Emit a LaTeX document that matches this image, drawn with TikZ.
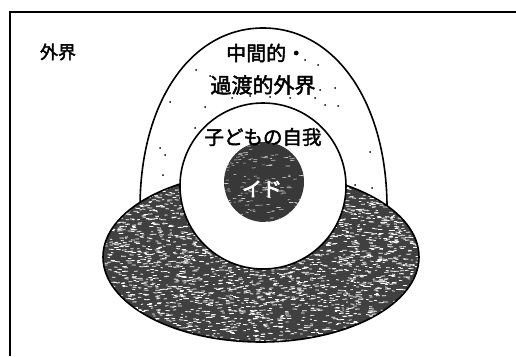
\documentclass[tikz,border=0pt]{standalone}
\usepackage{fontspec}
\newfontfamily\jp[FakeBold=2.2]{Noto Sans CJK JP}
\newfontfamily\jpb[FakeBold=3.5]{Noto Sans CJK JP}
\tikzset{
  lbl/.style={font=\jp\fontsize{20}{22}\selectfont, inner sep=0pt},
  outline/.style={draw=black, line width=1.6pt},
  darkfill/.style={fill=black!75},
}
\begin{document}
\begin{tikzpicture}[x=1pt,y=-1pt]
\useasboundingbox (0,0) rectangle (516,356);
\fill[white] (0,0) rectangle (516,356);
% frame
\draw[line width=1.4pt] (516,12) -- (10,12) -- (10,356);
% outer arch (intermediate / transitional outer world)
\draw[outline, fill=white] (140,215) -- (140,205) .. controls (141,100) and (192,28) .. (263,28)
   .. controls (334,28) and (386,100) .. (387,205) -- (387,215);
% sparse dots in the arch band
\foreach \p in {(196,70),(210,76),(305,60),(318,65),(320,90),(335,88),(222,92),(232,98),(250,96),(270,97),(290,98),(315,98),(170,102),(205,107),(325,105),(338,106),(195,128),(160,148),(165,155),(370,152),(163,175),(355,185),(372,188),(345,178)}
   \fill[black] \p circle (1);
% dark ellipse
\draw[outline, darkfill] (261,257) ellipse [x radius=158, y radius=85];
\begin{scope}
  \clip (261,257) ellipse [x radius=157, y radius=84];
  \pgfmathsetseed{7}
  \foreach \i in {1,...,3200}{
    \pgfmathsetmacro\xx{103+rnd*316}
    \pgfmathsetmacro\yy{172+rnd*170}
    \pgfmathsetmacro\ll{2+rnd*3}
    \draw[white, line width=0.8pt] (\xx,\yy) -- ++(\ll,rnd-0.5);
  }
\end{scope}
% ego circle
\draw[outline, fill=white] (263,186) circle (83);
% id circle
\fill[black!78] (264,182) circle (40);
\begin{scope}
  \clip (264,182) circle (40);
  \pgfmathsetseed{11}
  \foreach \i in {1,...,170}{
    \pgfmathsetmacro\xx{222+rnd*84}
    \pgfmathsetmacro\yy{140+rnd*84}
    \pgfmathsetmacro\ll{2+rnd*3}
    \draw[white!80!black, line width=0.6pt] (\xx,\yy) -- ++(\ll,rnd-0.5);
  }
\end{scope}
% labels
\node[lbl, font=\jp\fontsize{18}{20}\selectfont] (outer) at (58,52) {外界};
\node[lbl, anchor=west] (mid1) at (226,53) {中間的・};
\node[lbl, font=\jp\fontsize{21}{23}\selectfont] (mid2) at (263,85) {過渡的外界};
\node[lbl, font=\jp\fontsize{19.5}{22}\selectfont] (ego) at (263,137) {子どもの自我};
\node[lbl, text=white, font=\jpb\fontsize{20}{22}\selectfont] (id) at (262,189) {イド};
\end{tikzpicture}
\end{document}
